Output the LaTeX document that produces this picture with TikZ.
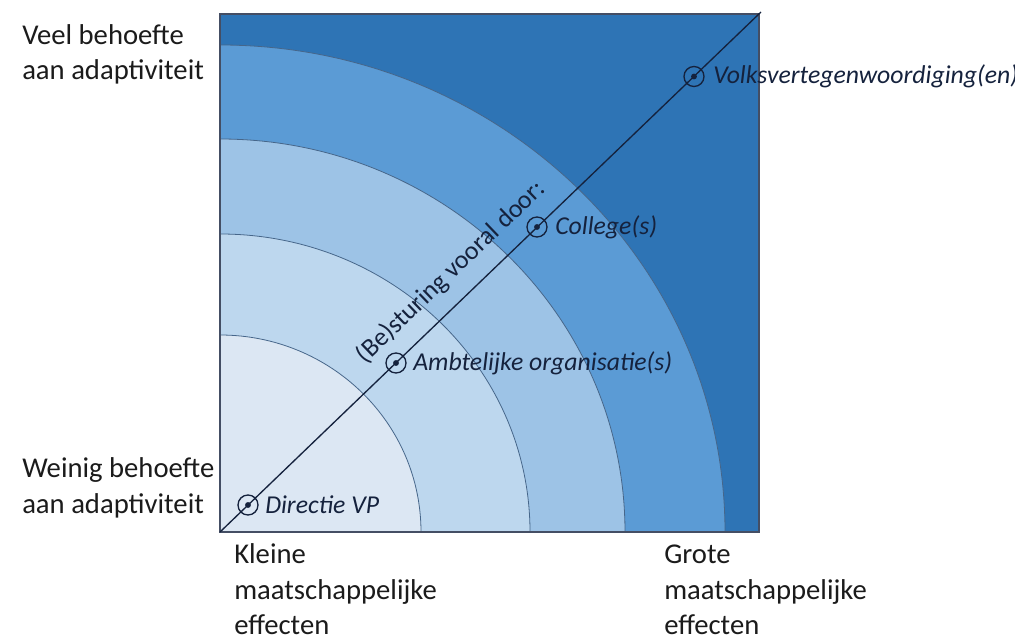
\documentclass[tikz,border=0pt]{standalone}
\usepackage{fontspec}
\setmainfont{Carlito}
\usetikzlibrary{calc}
\definecolor{ringA}{HTML}{2E74B5}
\definecolor{ringB}{HTML}{5B9BD5}
\definecolor{ringC}{HTML}{9DC3E6}
\definecolor{ringD}{HTML}{BDD7EE}
\definecolor{ringE}{HTML}{DCE7F3}
\definecolor{navy}{HTML}{15223D}
\definecolor{ink}{HTML}{1B1B1B}
\definecolor{arcline}{HTML}{46668A}
\tikzset{
  axislabel/.style={font=\fontsize{21.5}{26.5}\selectfont, text=ink, align=left, inner sep=0pt, anchor=base west},
  rolelabel/.style={font=\fontsize{19.3}{22}\selectfont\itshape, text=navy, inner sep=0pt, anchor=west},
  marker/.style={circle, draw=navy, line width=1pt, minimum size=15pt, inner sep=0pt,
    path picture={\fill[navy] (path picture bounding box.center) circle (2.2pt);}},
  ring/.style={draw=arcline, line width=0.6pt},
}
\begin{document}
\begin{tikzpicture}[x=0.75pt,y=0.75pt]
\useasboundingbox (0,0) rectangle (1015,637);
\coordinate (O) at (220,105);
\coordinate (TR) at (759,623);
\coordinate (E) at (761,625);
% square
\fill[ringA] (O) rectangle (TR);
\fill[ringB,ring] (O) -- ++(505,0) arc[start angle=0,end angle=90,x radius=505,y radius=487] -- cycle;
\fill[ringC,ring] (O) -- ++(405,0) arc[start angle=0,end angle=90,x radius=405,y radius=393] -- cycle;
\fill[ringD,ring] (O) -- ++(310,0) arc[start angle=0,end angle=90,x radius=310,y radius=298] -- cycle;
\fill[ringE,ring] (O) -- ++(201,0) arc[start angle=0,end angle=90,x radius=201,y radius=197] -- cycle;
\draw[navy!80, line width=0.8pt] (O) rectangle (TR);
% diagonal
\draw[navy, line width=1pt] (O) -- (E);
% markers
\node[marker] (m1) at (248,132) {};
\node[marker] (m2) at (396,274) {};
\node[marker] (m3) at (537,410) {};
\node[marker] (m4) at (694,560.5) {};
\node[rolelabel] (l1) at (265,132) {Directie VP};
\node[rolelabel] (l2) at (413,274) {Ambtelijke organisatie(s)};
\node[rolelabel] (l3) at (555,410) {College(s)};
\node[rolelabel] (l4) at (713,560.5) {Volksvertegenwoordiging(en)};
\node[font=\fontsize{19.5}{22}\selectfont, text=navy, rotate=43.86, inner sep=0pt] (steer) at (451,365) {(Be)sturing vooral door:};
% axis labels (base anchor = baseline of last line)
\node[axislabel] (veel) at (22,557) {Veel behoefte\\aan adaptiviteit};
\node[axislabel] (weinig) at (22,124) {Weinig behoefte\\aan adaptiviteit};
\node[axislabel] (klein) at (234,2.5) {Kleine\\maatschappelijke\\effecten};
\node[axislabel] (groot) at (664,2.5) {Grote\\maatschappelijke\\effecten};
\end{tikzpicture}
\end{document}
